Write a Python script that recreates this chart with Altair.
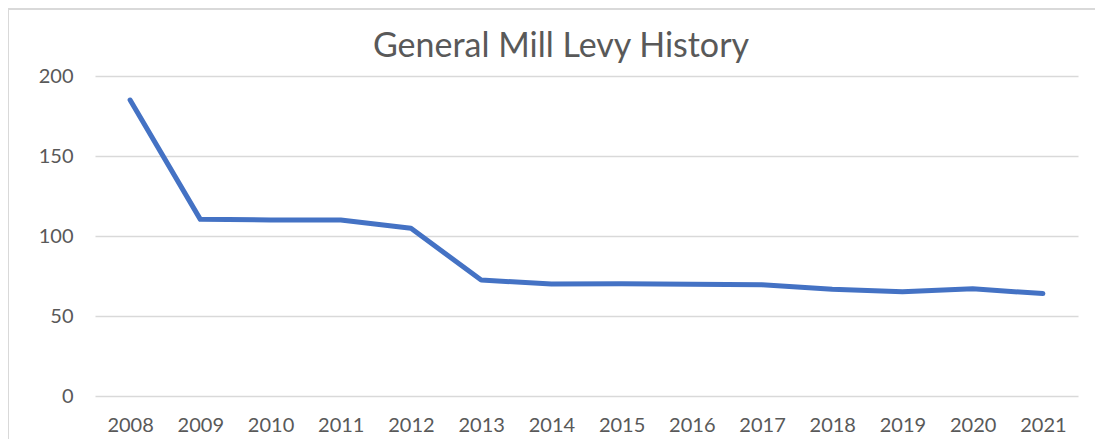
import altair as alt
import pandas as pd

years = ["2008", "2009", "2010", "2011", "2012", "2013", "2014",
         "2015", "2016", "2017", "2018", "2019", "2020", "2021"]
levy = [185, 110.4, 110, 110, 104.8, 72.5, 70, 70.2, 69.8, 69.5, 66.7, 65.2, 67, 64]
y_ticks = [0, 50, 100, 150, 200]
title_text = "General Mill Levy History"

df = pd.DataFrame({"year": years, "levy": levy})

FONT = "Lato"
GREY_TEXT = "#595959"
GRID = "#d9d9d9"

line = alt.Chart(df).mark_line(
    color="#4472C4", strokeWidth=5, strokeCap="round", strokeJoin="round"
).encode(
    x=alt.X("year:O", sort=years, title=None,
            scale=alt.Scale(type="point", padding=0.5),
            axis=alt.Axis(labelAngle=0, domain=False, ticks=False, labelPadding=19,
                          labelFontSize=20, labelColor=GREY_TEXT, labelFont=FONT, grid=False)),
    y=alt.Y("levy:Q", title=None,
            scale=alt.Scale(domain=[0, 200], nice=False),
            axis=alt.Axis(values=y_ticks, domain=False, ticks=False, labelPadding=22,
                          labelFontSize=20, labelColor=GREY_TEXT, labelFont=FONT,
                          grid=True, gridColor=GRID, gridWidth=1.5)),
)

border = alt.Chart(df).mark_rule(color=GRID, strokeWidth=2).encode(
    x=alt.value(-87), x2=alt.value(-87), y=alt.value(-68), y2=alt.value(400)
)
border_top = alt.Chart(df).mark_rule(color=GRID, strokeWidth=2).encode(
    x=alt.value(-87), x2=alt.value(1010), y=alt.value(-67), y2=alt.value(-67)
)
title = alt.Chart(pd.DataFrame({"t": [title_text]})).mark_text(
    font=FONT, fontSize=34, color=GREY_TEXT, align="center", baseline="alphabetic"
).encode(text="t:N", x=alt.value(466), y=alt.value(-19))

chart = alt.layer(border, border_top, title, line).properties(
    width=983, height=320,
    autosize=alt.AutoSizeParams(type="none"),
    padding={"left": 87, "top": 68, "right": 17, "bottom": 43},
).configure(background="white").configure_view(stroke=None)

chart.save("out.html", embed_options={"renderer": "svg", "actions": False})
